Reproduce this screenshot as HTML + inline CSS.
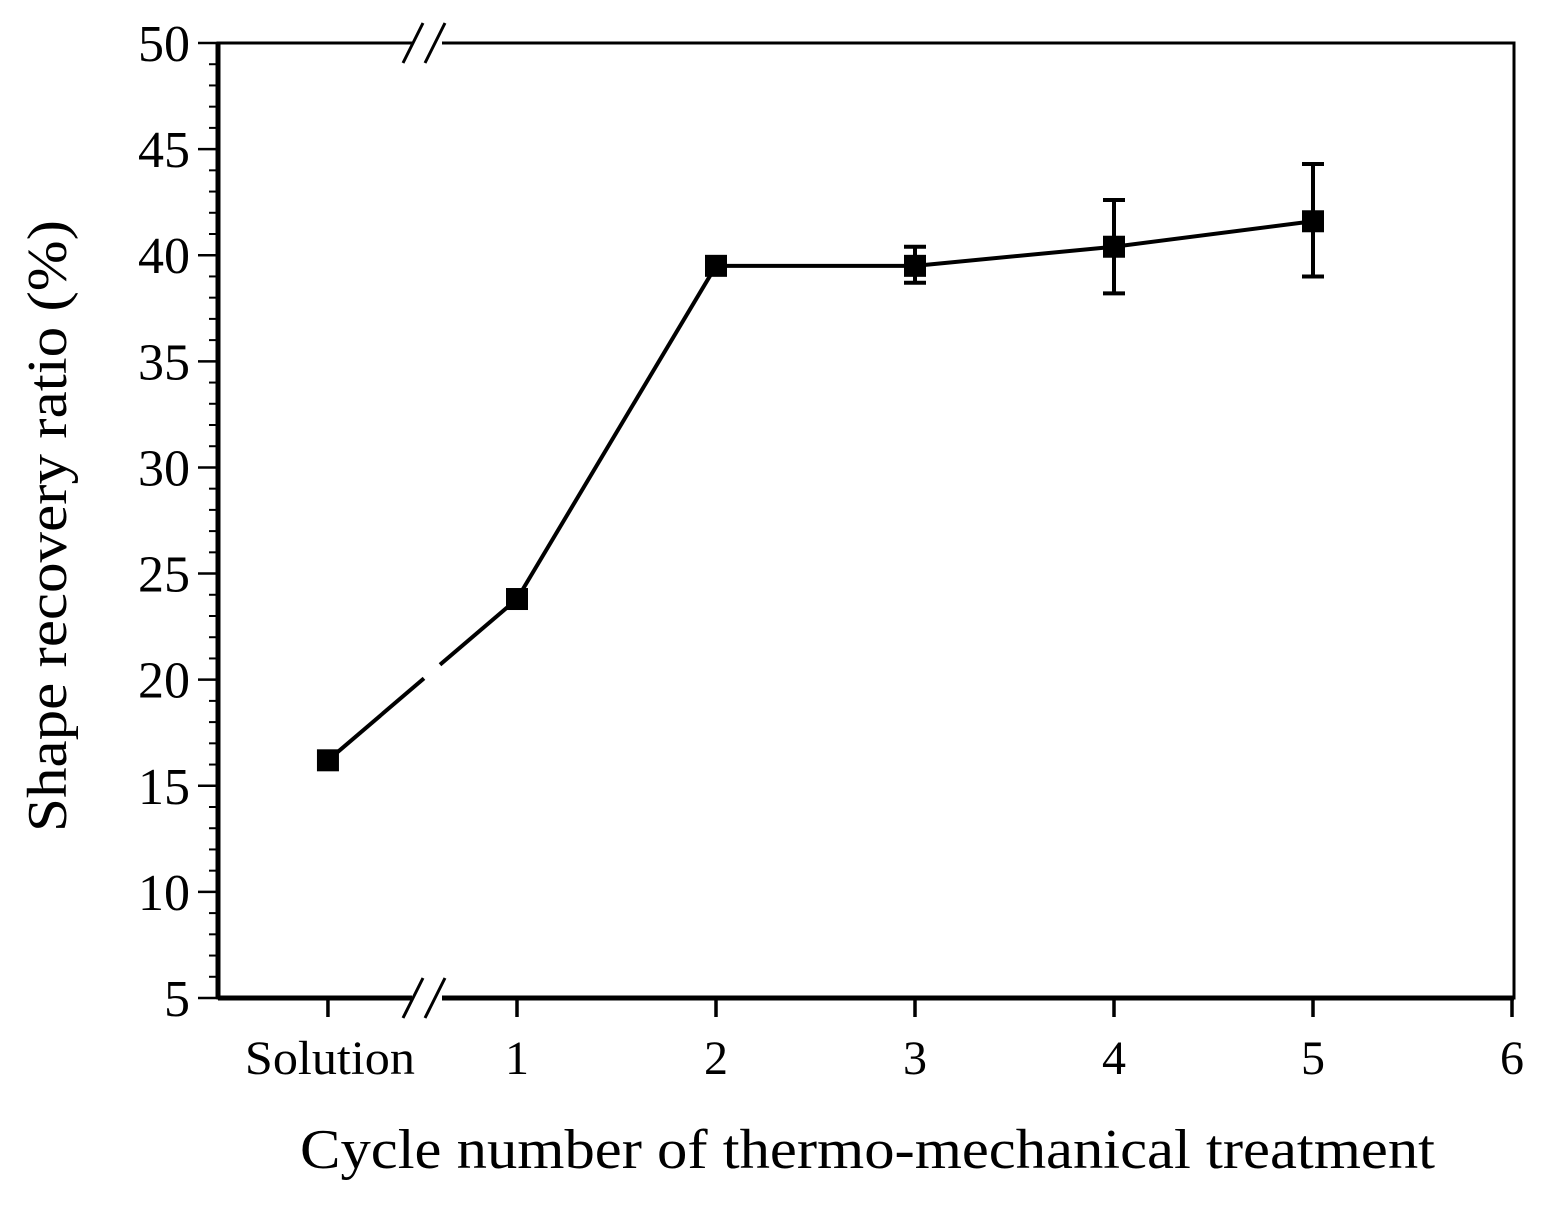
<!DOCTYPE html>
<html><head><meta charset="utf-8"><style>
html,body{margin:0;padding:0;background:#fff;}
svg{display:block;font-family:"Liberation Serif",serif;}
</style></head><body>
<svg id="chart" width="1546" height="1217" viewBox="0 0 1546 1217" xmlns="http://www.w3.org/2000/svg">
<rect x="0" y="0" width="1546" height="1217" fill="#fff"/>
<g id="axes"></g>
<g id="series"></g>
<text x="300" y="1168" font-size="56" textLength="1135" lengthAdjust="spacingAndGlyphs" fill="#000">Cycle number of  thermo-mechanical treatment</text>
<text transform="translate(66,832) rotate(-90)" font-size="56" textLength="612" lengthAdjust="spacingAndGlyphs" fill="#000">Shape recovery ratio (%)</text>
</svg>
<script>
const categories = ["Solution","1","2","3","4","5"];
const xValues = [0.05,1,2,3,4,5];
const recovery = [16.2,23.8,39.5,39.5,40.4,41.6];
const errLow = [0,0,0,0.8,2.2,2.6];
const errHigh = [0,0,0,0.9,2.2,2.7];
const yTicks = [5,10,15,20,25,30,35,40,45,50];
const xTickLabels = ["Solution","1","2","3","4","5","6"];
const xTickValues = [0.05,1,2,3,4,5,6];

const L=218,R=1514,T=43,B=998;
const yS=v=>B-(v-5)/45*(B-T);
const xS=v=>517+(v-1)*199;
const NS="http://www.w3.org/2000/svg";
function mk(tag,attrs,parent,txt){const e=document.createElementNS(NS,tag);for(const k in attrs)e.setAttribute(k,attrs[k]);if(txt!==undefined)e.textContent=txt;parent.appendChild(e);return e;}
const ax=document.getElementById('axes'), se=document.getElementById('series');

let e;
e=mk('rect',{x:L,y:T,width:R-L,height:B-T,fill:'none',stroke:'#000','stroke-width':3},ax);


e=mk('line',{x1:L,y1:T,x2:L,y2:B,stroke:'#000','stroke-width':5},ax);


e=mk('line',{x1:L,y1:B,x2:R,y2:B,stroke:'#000','stroke-width':5},ax);


for(const v of yTicks){
  const y=yS(v);
  e=mk('line',{x1:198,y1:y,x2:L,y2:y,stroke:'#000','stroke-width':2.5},ax);
  
  
  e=mk('text',{x:190,y:y+18,'font-size':52,'text-anchor':'end',fill:'#000'},ax,String(v));
  
  
}
for(let v=6;v<50;v++){ if(v%5===0)continue;
  const y=yS(v);
  e=mk('line',{x1:209,y1:y,x2:L,y2:y,stroke:'#000','stroke-width':2},ax);
  
  
}
xTickValues.forEach((v,i)=>{
  const x=xS(v);
  e=mk('line',{x1:x,y1:B,x2:x,y2:B+19,stroke:'#000','stroke-width':3.5},ax);
  
  
  const attrs={x:x+(i===0?2:0),y:1074,'font-size':48,'text-anchor':'middle',fill:'#000'};
  if(i===0){attrs.textLength=170;attrs.lengthAdjust='spacingAndGlyphs';}
  e=mk('text',attrs,ax,xTickLabels[i]);
  
  
});
[T,B].forEach(yy=>{
  e=mk('rect',{x:412,y:yy-5,width:30,height:10,fill:'#fff'},ax);
  
  
  [0,22].forEach(d=>{
    e=mk('line',{x1:403+d,y1:yy+20,x2:423+d,y2:yy-20,stroke:'#000','stroke-width':3},ax);
    
    
  });
});
for(let i=0;i<recovery.length-1;i++){
  e=mk('line',{x1:xS(xValues[i]),y1:yS(recovery[i]),x2:xS(xValues[i+1]),y2:yS(recovery[i+1]),stroke:'#000','stroke-width':4},se);
  
  
}
{
  const x0=xS(xValues[0]),y0=yS(recovery[0]),x1=xS(xValues[1]),y1=yS(recovery[1]);
  const t1=(424-x0)/(x1-x0),t2=(440-x0)/(x1-x0);
  e=mk('line',{x1:x0+t1*(x1-x0),y1:y0+t1*(y1-y0),x2:x0+t2*(x1-x0),y2:y0+t2*(y1-y0),stroke:'#fff','stroke-width':7},se);
  
  
}
recovery.forEach((v,i)=>{
  const x=xS(xValues[i]);
  if(errLow[i]>0||errHigh[i]>0){
    const yl=yS(v-errLow[i]),yh=yS(v+errHigh[i]);
    e=mk('path',{d:`M${x},${yl}V${yh}M${x-11},${yl}H${x+11}M${x-11},${yh}H${x+11}`,stroke:'#000','stroke-width':4,fill:'none'},se);
    
    
  }
  e=mk('rect',{x:x-11,y:yS(v)-11,width:22,height:22,fill:'#000'},se);
  
  
});
</script>
</body></html>
